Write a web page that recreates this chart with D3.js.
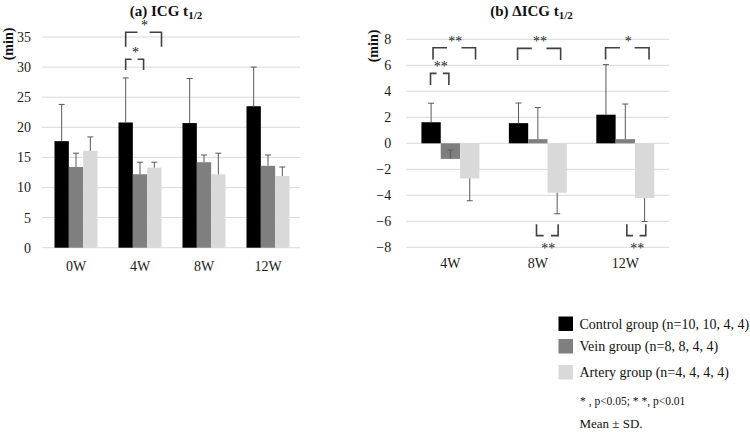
<!DOCTYPE html>
<html><head><meta charset="utf-8">
<script src="https://cdn.jsdelivr.net/npm/d3@7"></script>
<style>
html,body{margin:0;padding:0;background:#fff;}
svg{display:block;}
svg text{font-family:"Liberation Serif","Times New Roman",serif !important;}
</style></head>
<body><svg id="c" width="750" height="432"></svg>
<script>
// ---------- data ----------
const seriesNames = ["Control group (n=10, 10, 4, 4)", "Vein group (n=8, 8, 4, 4)", "Artery group (n=4, 4, 4, 4)"];
const seriesColors = ["#000000", "#7f7f7f", "#d9d9d9"];

// (a) ICG t1/2
const categoriesA = ["0W", "4W", "8W", "12W"];
const controlA = [17.7, 20.8, 20.7, 23.5];
const controlA_sd = [6.1, 7.4, 7.4, 6.5];
const veinA = [13.4, 12.2, 14.2, 13.6];
const veinA_sd = [2.3, 2.0, 1.2, 1.8];
const arteryA = [16.1, 13.3, 12.2, 11.9];
const arteryA_sd = [2.3, 0.9, 3.5, 1.5];
const ticksA = [0, 5, 10, 15, 20, 25, 30, 35];

// (b) ΔICG t1/2
const categoriesB = ["4W", "8W", "12W"];
const controlB = [1.62, 1.55, 2.2];
const controlB_sd = [1.46, 1.55, 3.85];
const veinB = [-1.2, 0.32, 0.32];
const veinB_sd = [0.68, 2.43, 2.7];
const arteryB = [-2.7, -3.8, -4.2];
const arteryB_sd = [1.72, 1.62, 1.82];
const errDirB = [1, 1, -1];
const ticksB = [-8, -6, -4, -2, 0, 2, 4, 6, 8];

// significance brackets (bar slots: 0.5 = first bar centre)
const bracketsA = [
  {cat: "4W", from: 0.5, to: 3.0, level: 35.8, drop: 2.4, label: "*", up: true},
  {cat: "4W", from: 0.5, to: 1.75, level: 31.3, drop: 1.8, label: "*", up: true}
];
const bracketsB = [
  {cat: "4W", from: 0.6, to: 2.8, level: 7.35, drop: 0.9, label: "**", up: true},
  {cat: "4W", from: 0.47, to: 1.42, level: 5.38, drop: 0.9, label: "**", up: true},
  {cat: "8W", from: 0.45, to: 2.68, level: 7.3, drop: 0.9, label: "**", up: true},
  {cat: "12W", from: 0.48, to: 2.73, level: 7.35, drop: 0.9, label: "*", up: true},
  {cat: "8W", from: 1.43, to: 2.55, level: -7.1, drop: 0.88, label: "**", up: false},
  {cat: "12W", from: 1.58, to: 2.56, level: -7.1, drop: 0.88, label: "**", up: false}
];

const svg = d3.select("#c");
const gridColor = "#d9d9d9", errColor = "#595959", brColor = "#404040", txtColor = "#1a1a1a";

function panel(opt) {
  const g = svg.append("g");
  const x0 = d3.scaleBand().domain(opt.categories).range(opt.xRange).padding(0);
  const groupW = x0.bandwidth() * opt.groupFrac;
  const x1 = d3.scaleBand().domain([0, 1, 2]).range([0, groupW]).padding(0);
  const y = d3.scaleLinear().domain(opt.yDomain).range(opt.yRange);
  const gx = c => x0(c) + (x0.bandwidth() - groupW) / 2;

  // gridlines
  g.append("g").selectAll("line").data(opt.ticks).join("line")
    .attr("x1", opt.gridX[0]).attr("x2", opt.gridX[1])
    .attr("y1", d => y(d)).attr("y2", d => y(d))
    .attr("stroke", gridColor).attr("stroke-width", 1);

  // y tick labels
  const ya = g.append("g").attr("transform", `translate(${opt.gridX[0]},0)`)
    .call(d3.axisLeft(y).tickValues(opt.ticks).tickSize(0).tickPadding(opt.yPad).tickFormat(d3.format("d")));
  ya.select(".domain").remove();
  ya.selectAll("text").attr("font-size", 14).attr("fill", txtColor);

  // x labels
  const xa = g.append("g").attr("transform", `translate(0,${opt.yRange[0]})`)
    .call(d3.axisBottom(x0).tickSize(0).tickPadding(opt.xPad));
  xa.select(".domain").remove();
  xa.selectAll("text").attr("font-size", 14).attr("fill", txtColor);

  // bars
  const rows = [];
  opt.series.forEach((vals, si) => vals.forEach((v, ci) => rows.push({
    c: opt.categories[ci], s: si, v: v, sd: opt.sds[si][ci], dir: opt.dirs[si]
  })));
  g.append("g").selectAll("rect").data(rows).join("rect")
    .attr("x", d => gx(d.c) + x1(d.s))
    .attr("width", x1.bandwidth())
    .attr("y", d => y(Math.max(0, d.v)))
    .attr("height", d => Math.abs(y(d.v) - y(0)))
    .attr("fill", d => seriesColors[d.s]);

  // error bars
  const eg = g.append("g").attr("stroke", errColor).attr("stroke-width", 1);
  rows.forEach(d => {
    const cx = gx(d.c) + x1(d.s) + x1.bandwidth() / 2;
    const yEnd = y(d.v + d.dir * d.sd);
    eg.append("line").attr("x1", cx).attr("x2", cx).attr("y1", y(d.v)).attr("y2", yEnd);
    eg.append("line").attr("x1", cx - 3).attr("x2", cx + 3).attr("y1", yEnd).attr("y2", yEnd);
  });

  // brackets
  const bw = x1.bandwidth();
  const bg = g.append("g");
  opt.brackets.forEach(b => {
    const xa_ = gx(b.cat) + b.from * bw, xb = gx(b.cat) + b.to * bw;
    const yl = y(b.level), yt = y(b.up ? b.level - b.drop : b.level + b.drop);
    const w = xb - xa_, gapL = xa_ + w * 0.33, gapR = xb - w * 0.33;
    const path = `M${xa_},${yt}V${yl}H${gapL}M${gapR},${yl}H${xb}V${yt}`;
    bg.append("path").attr("d", path).attr("fill", "none")
      .attr("stroke", brColor).attr("stroke-width", 1.6);
    bg.append("text").attr("x", (xa_ + xb) / 2 + 1)
      .attr("y", b.up ? yl - 2 : yl + 17)
      .attr("text-anchor", "middle").attr("font-size", 14).attr("fill", "#222")
      .text(b.label);
  });

  // title
  const t = g.append("text").attr("x", opt.titleX).attr("y", 16)
    .attr("text-anchor", "middle").attr("font-weight", "bold").attr("font-size", 15).attr("fill", "#111");
  t.append("tspan").text(opt.title);
  t.append("tspan").attr("font-size", 11).attr("dy", 3).text("1/2");

  // unit
  g.append("text").attr("transform", `translate(${opt.unitX},${opt.unitY}) rotate(-90)`)
    .attr("text-anchor", "middle").attr("font-weight", "bold").attr("font-size", 14).attr("fill", "#111")
    .text("(min)");
}

panel({
  categories: categoriesA, xRange: [44, 300], groupFrac: 0.672, gridX: [42, 300],
  yDomain: [0, 35], yRange: [247.7, 37], ticks: ticksA, yPad: 11, xPad: 13,
  series: [controlA, veinA, arteryA], sds: [controlA_sd, veinA_sd, arteryA_sd], dirs: [1, 1, 1],
  brackets: bracketsA, title: "(a) ICG t", titleX: 166, unitX: 13, unitY: 44
});
panel({
  categories: categoriesB, xRange: [406.7, 669], groupFrac: 0.663, gridX: [406.7, 669],
  yDomain: [-8, 8], yRange: [247.3, 39.3], ticks: ticksB, yPad: 15.5, xPad: 10.7,
  series: [controlB, veinB, arteryB], sds: [controlB_sd, veinB_sd, arteryB_sd], dirs: errDirB,
  brackets: bracketsB, title: "(b) \u0394ICG t", titleX: 531.5, unitX: 378, unitY: 46
});

// legend
const lg = svg.append("g");
const legY = [323.5, 346, 372];
seriesNames.forEach((n, i) => {
  lg.append("rect").attr("x", 558.5).attr("y", legY[i] - 7).attr("width", 14.5).attr("height", 14.5)
    .attr("fill", seriesColors[i]);
  lg.append("text").attr("x", 579.5).attr("y", legY[i] + 5).attr("font-size", 14).attr("fill", "#111").text(n);
});
lg.append("text").attr("x", 580).attr("y", 405).attr("font-size", 11.5).attr("fill", "#111")
  .text("* , p<0.05; * *, p<0.01");
lg.append("text").attr("x", 579.5).attr("y", 428).attr("font-size", 13).attr("fill", "#111")
  .text("Mean \u00b1 SD.");
</script></body></html>
